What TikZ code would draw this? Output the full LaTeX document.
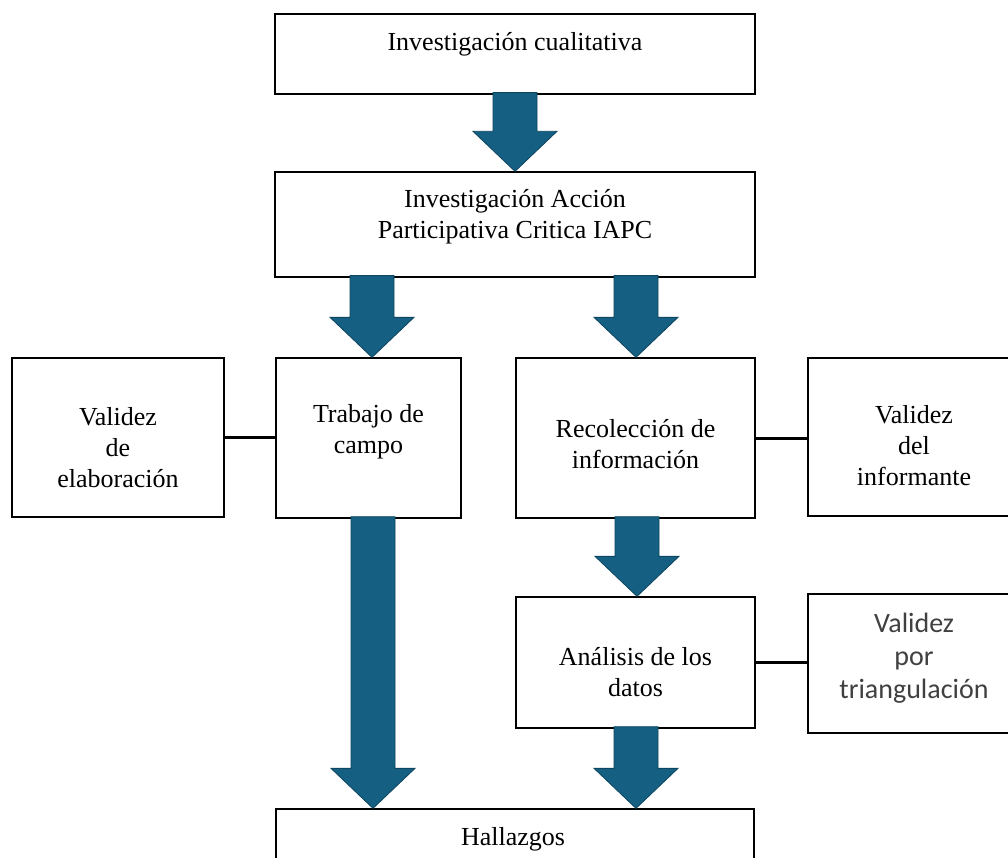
\documentclass[tikz,border=0pt]{standalone}
\usepackage{fontspec}
\setmainfont{Liberation Serif}
\newfontfamily\sansf{Carlito}
\usetikzlibrary{calc}
\definecolor{arrowblue}{HTML}{156082}
\definecolor{arrowedge}{HTML}{0E4560}
\definecolor{txtgray}{HTML}{404040}
\tikzset{
  box/.style={draw=black, line width=1.3pt, fill=white, rectangle, inner sep=0pt},
  txt/.style={align=center, font=\fontsize{26}{31}\selectfont, inner sep=0pt},
  stxt/.style={align=center, font=\sansf\fontsize{28}{33}\selectfont, text=txtgray, inner sep=0pt},
  bigarrow/.style={fill=arrowblue, draw=arrowedge, line width=0.8pt, line join=miter},
  link/.style={draw=black, line width=3pt},
}
% block arrow from node #1 (bottom) to node #2 (top) at x = #3
\newcommand\blockarr[3]{%
  \path[bigarrow] let \p1=(#1.south), \p2=(#2.north) in
    ({#3pt-22pt},{\y1+2pt}) -- ({#3pt+22pt},{\y1+2pt}) -- ({#3pt+22pt},{\y2+40pt})
    -- ({#3pt+42pt},{\y2+40pt}) -- (#3pt,\y2) -- ({#3pt-42pt},{\y2+40pt})
    -- ({#3pt-22pt},{\y2+40pt}) -- cycle;}
\begin{document}
\begin{tikzpicture}[x=1pt,y=-1pt]
\useasboundingbox (0,0) rectangle (1008,858);
\clip (0,0) rectangle (1008,858);
% boxes
\node[box, minimum width=480pt, minimum height=80pt]  (top)  at (515,54)    {};
\node[box, minimum width=480pt, minimum height=105pt] (iapc) at (515,224.5) {};
\node[box, minimum width=212pt, minimum height=159pt] (vel)  at (118,437.5) {};
\node[box, minimum width=185pt, minimum height=160pt] (trab) at (368.5,438) {};
\node[box, minimum width=239pt, minimum height=160pt] (rec)  at (635.5,438) {};
\node[box, minimum width=212pt, minimum height=158pt] (vinf) at (914,437)   {};
\node[box, minimum width=239pt, minimum height=131pt] (ana)  at (635.5,662.5) {};
\node[box, minimum width=212pt, minimum height=139pt] (vtri) at (914,663.5) {};
\node[box, minimum width=478pt, minimum height=100pt] (hall) at (515,859)   {};
% texts
\node[txt] (ttop)  at (515,44)    {Investigación cualitativa};
\node[txt] (tiapc) at (515,217)   {Investigación Acción\\Participativa Critica IAPC};
\node[txt] (tvel)  at (118,448)   {Validez\\de\\elaboración};
\node[txt] (ttrab) at (368.5,432) {Trabajo de\\campo};
\node[txt] (trec)  at (635.5,444) {Recolección de\\información};
\node[txt] (tvinf) at (914,445.5) {Validez\\del\\informante};
\node[txt] (tana)  at (635.5,672.5) {Análisis de los\\datos};
\node[stxt] (tvtri) at (914,658) {Validez\\por\\triangulación};
\node[txt] (thall) at (513,839.5) {Hallazgos};
% side connectors
\draw[link] (vel.east) -- (vel.east -| trab.west);
\draw[link] (rec.east) -- (rec.east -| vinf.west);
\draw[link, line width=3.5pt] (ana.east) -- (ana.east -| vtri.west);
% block arrows
\blockarr{top}{iapc}{515}
\blockarr{iapc}{trab}{372}
\blockarr{iapc}{rec}{636}
\blockarr{trab}{hall}{373}
\blockarr{rec}{ana}{637}
\blockarr{ana}{hall}{636}
\end{tikzpicture}
\end{document}
